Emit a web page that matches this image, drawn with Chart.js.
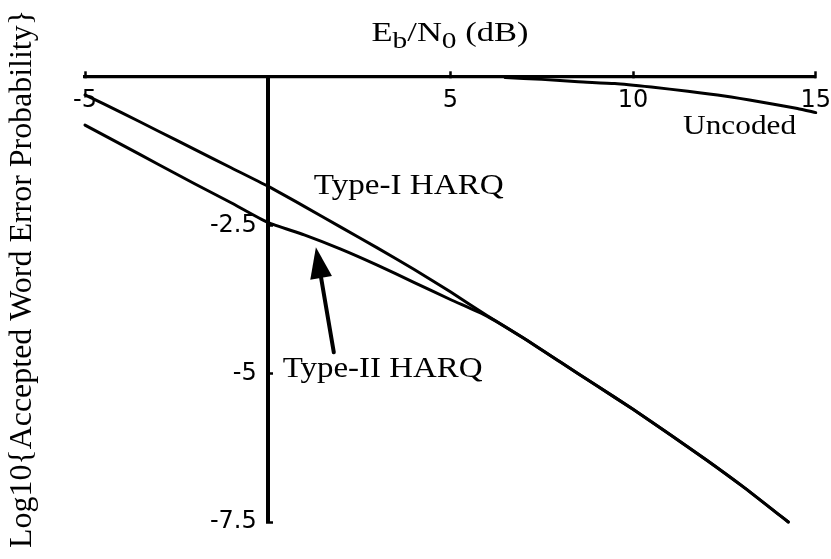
<!DOCTYPE html>
<html>
<head>
<meta charset="utf-8">
<script src="https://cdn.jsdelivr.net/npm/chart.js@4.4.1/dist/chart.umd.min.js"></script>
<style>
  html, body { margin: 0; padding: 0; background: #fff; }
  canvas { display: block; }
</style>
</head>
<body>
<canvas id="harq" width="831" height="559"></canvas>
<script>
// Axis tick values
const ebn0Ticks = [-5, 5, 10, 15];
const probTicks = [-7.5, -5, -2.5];

// Type-I HARQ: log10 accepted word error probability vs Eb/N0 (dB)
const typeIEbN0 = [-5, -4, -3, -2, -1, 0, 1, 2, 3, 4, 5, 6, 7, 8, 9, 10, 11, 12, 13, 14, 14.25];
const typeIProb = [-0.30, -0.60, -0.91, -1.22, -1.53, -1.84, -2.18, -2.53, -2.88, -3.24, -3.62, -4.02,
                   -4.40, -4.80, -5.20, -5.60, -6.02, -6.45, -6.90, -7.38, -7.50];

// Type-II HARQ
const typeIIEbN0 = [-5, -4, -3, -2, -1, 0, 1, 2, 3, 4, 5, 6, 7, 8, 9, 10, 11, 12, 13, 14, 14.25];
const typeIIProb = [-0.81, -1.14, -1.47, -1.80, -2.12, -2.45, -2.66, -2.90, -3.17, -3.46, -3.75, -4.03,
                    -4.40, -4.80, -5.20, -5.60, -6.02, -6.45, -6.90, -7.38, -7.50];

// Uncoded
const uncodedEbN0 = [6.5, 7.5, 8.5, 9.5, 10.5, 11.5, 12.5, 13.5, 14.5, 15];
const uncodedProb = [-0.01, -0.04, -0.08, -0.11, -0.17, -0.24, -0.32, -0.42, -0.53, -0.60];

const serif = '"Liberation Serif", "Times New Roman", serif';
const sans = '"DejaVu Sans", sans-serif';

const toPoints = (xs, ys) => xs.map((v, i) => ({ x: v, y: ys[i] }));

const curveStyle = {
  showLine: true,
  borderColor: '#000',
  borderWidth: 3,
  pointRadius: 0,
  tension: 0.2,
  borderCapStyle: 'round',
  borderJoinStyle: 'round',
  clip: false
};

// Curve names placed next to the curves (anchors in data units)
const curveLabels = [
  { text: 'Type-I HARQ', x: 1.26, y: -1.98, size: 30, width: 190 },
  { text: 'Type-II HARQ', x: 0.41, y: -5.06, size: 30, width: 200 },
  { text: 'Uncoded', x: 11.37, y: -0.96, size: 28, width: 113 }
];

// Arrow pointing at the Type-II curve
const arrow = { fromX: 1.81, fromY: -4.64, toX: 1.32, toY: -2.87 };

function drawStretched(ctx, text, x, y, size, width, align) {
  ctx.font = size + 'px ' + serif;
  const natural = ctx.measureText(text).width;
  const sx = width / natural;
  ctx.save();
  ctx.translate(x, y);
  ctx.scale(sx, 1);
  ctx.textAlign = align || 'left';
  ctx.fillText(text, 0, 0);
  ctx.restore();
}

const textPlugin = {
  id: 'harqText',
  afterDraw(chart) {
    const { ctx, scales } = chart;
    const xs = scales.x, ys = scales.y;
    ctx.save();
    ctx.fillStyle = '#000';
    ctx.strokeStyle = '#000';
    ctx.textBaseline = 'alphabetic';

    curveLabels.forEach(l => {
      drawStretched(ctx, l.text, xs.getPixelForValue(l.x), ys.getPixelForValue(l.y), l.size, l.width, 'left');
    });

    // arrow
    const x1 = xs.getPixelForValue(arrow.fromX), y1 = ys.getPixelForValue(arrow.fromY);
    const x2 = xs.getPixelForValue(arrow.toX), y2 = ys.getPixelForValue(arrow.toY);
    const ang = Math.atan2(y2 - y1, x2 - x1);
    const headLen = 31, headHalf = 11;
    const bx = x2 - headLen * Math.cos(ang), by = y2 - headLen * Math.sin(ang);
    ctx.lineWidth = 4;
    ctx.lineCap = 'round';
    ctx.beginPath();
    ctx.moveTo(x1, y1);
    ctx.lineTo(bx, by);
    ctx.stroke();
    ctx.beginPath();
    ctx.moveTo(x2, y2);
    ctx.lineTo(bx + headHalf * Math.sin(ang), by - headHalf * Math.cos(ang));
    ctx.lineTo(bx - headHalf * Math.sin(ang), by + headHalf * Math.cos(ang));
    ctx.closePath();
    ctx.fill();

    // y-axis title
    ctx.save();
    ctx.translate(23, 279);
    ctx.rotate(-Math.PI / 2);
    ctx.textBaseline = 'middle';
    drawStretched(ctx, 'Log10{Accepted Word Error Probability}', 0, 0, 31, 538, 'center');
    ctx.restore();

    // x-axis title with subscripts: E_b/N_0 (dB)
    const size = 27, subSize = 23, subDrop = 7, target = 157;
    const parts = [
      { t: 'E', sub: false }, { t: 'b', sub: true }, { t: '/N', sub: false },
      { t: '0', sub: true }, { t: ' (dB)', sub: false }
    ];
    let natural = 0;
    parts.forEach(p => {
      ctx.font = (p.sub ? subSize : size) + 'px ' + serif;
      p.w = ctx.measureText(p.t).width;
      natural += p.w;
    });
    const sx = target / natural;
    ctx.save();
    ctx.translate(450 - target / 2, 41);
    ctx.scale(sx, 1);
    ctx.textAlign = 'left';
    let cx = 0;
    parts.forEach(p => {
      ctx.font = (p.sub ? subSize : size) + 'px ' + serif;
      ctx.fillText(p.t, cx, p.sub ? subDrop : 0);
      cx += p.w;
    });
    ctx.restore();

    ctx.restore();
  }
};

const setTicks = vals => scale => { scale.ticks = vals.map(v => ({ value: v })); };

new Chart(document.getElementById('harq'), {
  type: 'scatter',
  data: {
    datasets: [
      Object.assign({ label: 'Type-I HARQ', data: toPoints(typeIEbN0, typeIProb) }, curveStyle),
      Object.assign({ label: 'Type-II HARQ', data: toPoints(typeIIEbN0, typeIIProb) }, curveStyle),
      Object.assign({ label: 'Uncoded', data: toPoints(uncodedEbN0, uncodedProb) }, curveStyle)
    ]
  },
  options: {
    responsive: false,
    animation: false,
    devicePixelRatio: 1,
    layout: { padding: { left: 85, right: 15, top: 77, bottom: 37 } },
    plugins: { legend: { display: false }, tooltip: { enabled: false }, title: { display: false } },
    scales: {
      x: {
        type: 'linear', min: -5, max: 15,
        position: { y: 0 },
        afterBuildTicks: setTicks(ebn0Ticks),
        grid: { display: true, drawOnChartArea: false, drawTicks: true, tickLength: -7, tickWidth: 2.5, tickColor: '#000' },
        border: { display: true, color: '#000', width: 3.3 },
        ticks: { color: '#000', font: { family: sans, size: 24, lineHeight: 2.58 }, padding: 0,
                 maxRotation: 0, autoSkip: false, callback: v => String(v) }
      },
      y: {
        type: 'linear', min: -7.5, max: 0,
        position: { x: 0 },
        afterBuildTicks: setTicks(probTicks),
        grid: { display: true, drawOnChartArea: false, drawTicks: true, tickLength: -7, tickWidth: 2.5, tickColor: '#000' },
        border: { display: true, color: '#000', width: 4 },
        ticks: { display: false }
      },
      yl: {
        type: 'linear', min: -7.5, max: 0,
        position: { x: -0.3 },
        afterBuildTicks: setTicks(probTicks),
        grid: { display: false, drawTicks: false },
        border: { display: false },
        ticks: { color: '#000', font: { family: sans, size: 24 }, autoSkip: false, callback: v => String(v) }
      }
    }
  },
  plugins: [textPlugin]
});
</script>
</body>
</html>
